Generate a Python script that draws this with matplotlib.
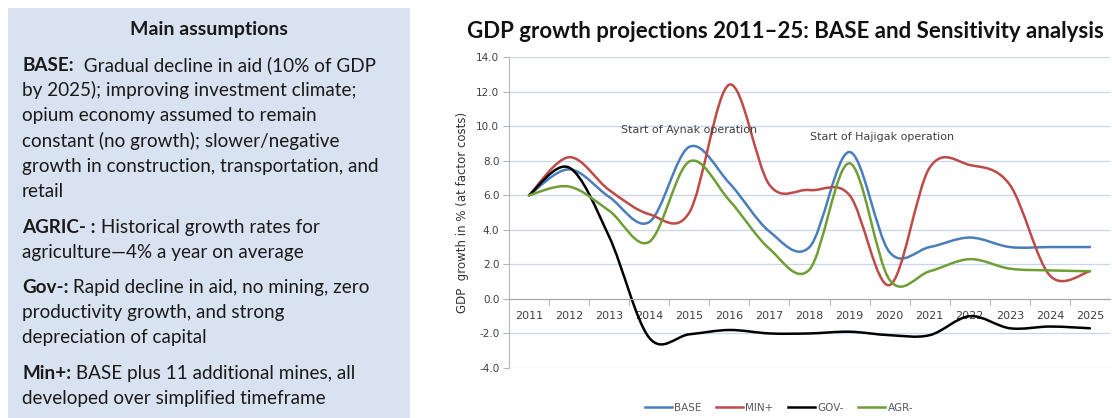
import matplotlib
matplotlib.use("Agg")
import matplotlib.pyplot as plt
import numpy as np
from matplotlib.path import Path
from matplotlib.patches import PathPatch, Rectangle
from matplotlib.lines import Line2D

years = list(range(2011, 2026))
base = [6.0, 7.5, 5.9, 4.45, 8.8, 6.7, 3.9, 3.0, 8.5, 2.7, 3.0, 3.55, 3.0, 3.0, 3.0]
min_plus = [6.0, 8.2, 6.3, 4.9, 5.0, 12.4, 6.6, 6.3, 6.0, 0.8, 7.6, 7.75, 6.6, 1.35, 1.6]
gov_minus = [6.0, 7.6, 3.6, -2.25, -2.05, -1.8, -2.0, -2.0, -1.9, -2.1, -2.1, -1.0, -1.7, -1.6, -1.7]
agr_minus = [6.0, 6.5, 5.1, 3.3, 7.95, 5.7, 2.9, 1.7, 7.85, 1.1, 1.6, 2.3, 1.75, 1.65, 1.6]

series_names = ["BASE", "MIN+", "GOV-", "AGR-"]
series_vals = [base, min_plus, gov_minus, agr_minus]
series_colors = ["#4a7ebb", "#be4b48", "#000000", "#6f9e35"]

yticks = np.arange(-4, 14.1, 2)

title = "GDP growth projections 2011\u201325: BASE and Sensitivity analysis"
ylabel = "GDP  growth in % (at factor costs)"

box_heading = "Main assumptions"
box_paras = [
    ("BASE:", ["  Gradual decline in aid (10% of GDP", "by 2025); improving investment climate;",
               "opium economy assumed to remain", "constant (no growth); slower/negative",
               "growth in construction, transportation, and", "retail"]),
    ("AGRIC- :", [" Historical growth rates for", "agriculture\u20144% a year on average"]),
    ("Gov-:", [" Rapid decline in aid, no mining, zero", "productivity growth, and strong",
               "depreciation of capital"]),
    ("Min+:", [" BASE plus 11 additional mines, all", "developed over simplified timeframe"]),
]
para_y = [71, 233, 293, 379]  # baseline of first line, px from top

FONT = "Lato"


def smooth_path(x, y):
    # excel-like smoothed line: bezier through each data point
    x = np.asarray(x, float)
    y = np.asarray(y, float)
    n = len(x)
    verts = [(x[0], y[0])]
    codes = [Path.MOVETO]
    for i in range(n - 1):
        p0 = np.array([x[max(i - 1, 0)], y[max(i - 1, 0)]])
        p1 = np.array([x[i], y[i]])
        p2 = np.array([x[i + 1], y[i + 1]])
        p3 = np.array([x[min(i + 2, n - 1)], y[min(i + 2, n - 1)]])
        c1 = p1 + (p2 - p0) / 6.0
        c2 = p2 - (p3 - p1) / 6.0
        verts += [tuple(c1), tuple(c2), tuple(p2)]
        codes += [Path.CURVE4] * 3
    return Path(verts, codes)


W, H = 1112, 418
fig = plt.figure(figsize=(W / 100, H / 100), dpi=100)

# left assumptions panel
fig.patches.append(Rectangle((8 / W, 0), 402 / W, 1 - 8 / H, transform=fig.transFigure,
                             facecolor="#d9e2f0", edgecolor="none", zorder=0))
tax = fig.add_axes([0, 0, 1, 1], zorder=1)
tax.set_xlim(0, W)
tax.set_ylim(H, 0)
tax.axis("off")
tax.text(209, 29, box_heading, fontsize=14, fontweight="bold", family=FONT,
         ha="center", va="center", color="#1a1a1a")
fs = 13.6
for (head, lines), y0 in zip(box_paras, para_y):
    t = tax.text(22, y0, head, fontsize=fs, fontweight="bold", family=FONT,
                 ha="left", va="baseline", color="#1a1a1a")
    tax.annotate(lines[0], xy=(1, 0), xycoords=t, fontsize=fs, family=FONT,
                 ha="left", va="bottom", color="#1a1a1a")
    for k, ln in enumerate(lines[1:], start=1):
        tax.text(22, y0 + 25.2 * k, ln, fontsize=fs, family=FONT,
                 ha="left", va="baseline", color="#1a1a1a")

# chart
ax = fig.add_axes([509 / W, 1 - 368 / H, 601 / W, 311 / H], zorder=2)
ax.patch.set_alpha(0)
for vals, col in zip(series_vals, series_colors):
    ax.add_patch(PathPatch(smooth_path(years, vals), facecolor="none", edgecolor=col,
                           lw=1.8, capstyle="round", joinstyle="round"))

ax.set_xlim(2010.5, 2025.5)
ax.set_ylim(-4, 14)
ax.set_yticks(yticks)
ax.set_yticklabels([f"{v:.1f}" for v in yticks])
ax.yaxis.grid(True, color="#c5d6ee", lw=0.9)
ax.set_axisbelow(True)
for s in ["top", "right"]:
    ax.spines[s].set_visible(False)
ax.spines["left"].set_color("#b0b8c4")
ax.spines["bottom"].set_position(("data", 0))
ax.spines["bottom"].set_color("#a6a6a6")
ax.set_xticks(years)
ax.set_xticklabels([str(y) for y in years])
ax.set_xticks(np.arange(2011.5, 2025, 1), minor=True)
ax.tick_params(axis="x", which="major", length=0, pad=9, labelsize=8, labelcolor="#404040")
ax.tick_params(axis="x", which="minor", length=4, color="#a6a6a6", direction="out")
ax.tick_params(axis="y", length=4, color="#b0b8c4", labelsize=7.5, labelcolor="#404040", pad=3)
for lbl in ax.get_xticklabels() + ax.get_yticklabels():
    lbl.set_family("DejaVu Sans")
ax.set_ylabel(ylabel, fontsize=8.5, color="#333333", family="DejaVu Sans", labelpad=5)

ax.text(2015.0, 9.75, "Start of Aynak operation", fontsize=8, color="#404040",
        family="DejaVu Sans", ha="center", va="center")
ax.text(2019.8, 9.35, "Start of Hajigak operation", fontsize=8, color="#404040",
        family="DejaVu Sans", ha="center", va="center")

fig.text(785 / W, 1 - 31 / H, title, fontsize=16, fontweight="bold", family=FONT,
         ha="center", va="center", color="#111111")

handles = [Line2D([0], [0], color=c, lw=1.8) for c in series_colors]
fig.legend(handles, series_names, loc="center", bbox_to_anchor=(779 / W, 1 - 408 / H),
           ncol=4, frameon=False, fontsize=7.5, labelcolor="#595959", handlelength=2.6,
           handletextpad=0.2, columnspacing=1.4)

fig.savefig("out.png", dpi=100)
